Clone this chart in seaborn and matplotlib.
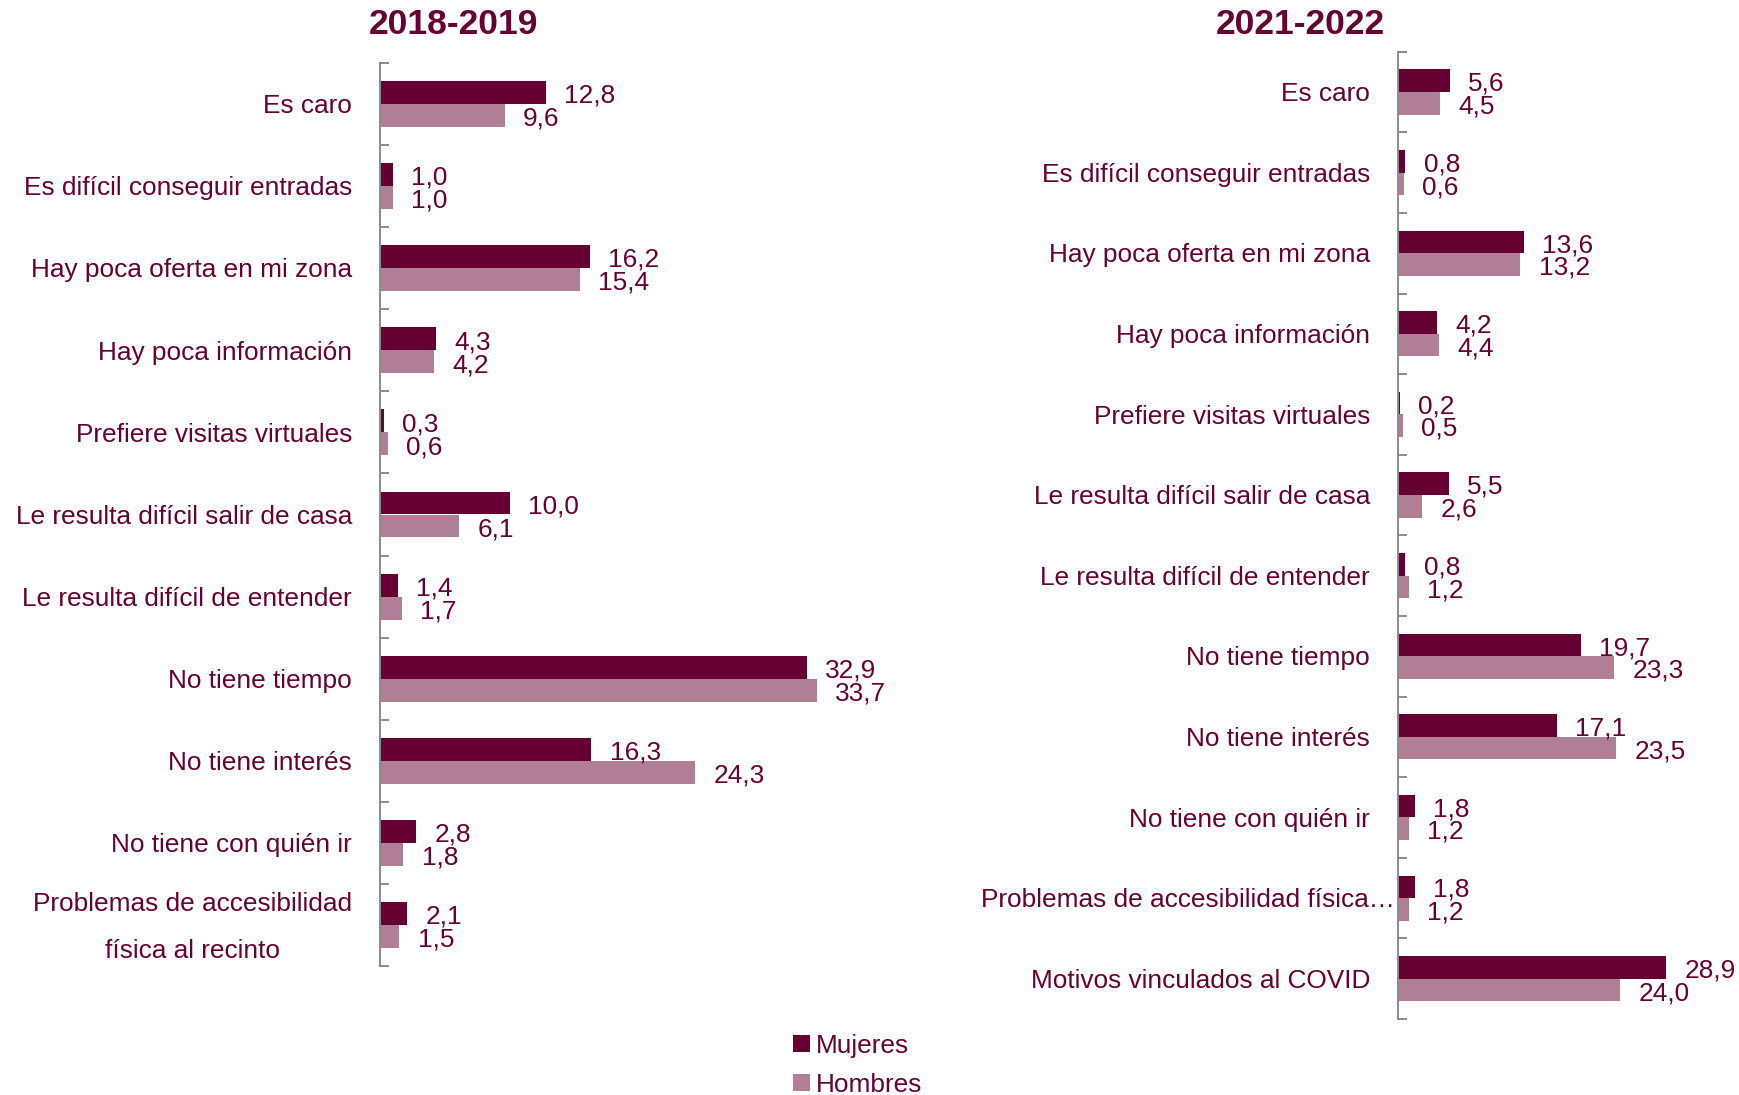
import numpy as np
import pandas as pd
import matplotlib
matplotlib.use("Agg")
import matplotlib.pyplot as plt
from matplotlib.patches import Patch
import seaborn as sns

# Motivos para no asistir, por sexo (%)
motivos_1819 = [
    "Es caro",
    "Es difícil conseguir entradas",
    "Hay poca oferta en mi zona",
    "Hay poca información",
    "Prefiere visitas virtuales",
    "Le resulta difícil salir de casa",
    "Le resulta difícil de entender",
    "No tiene tiempo",
    "No tiene interés",
    "No tiene con quién ir",
    "Problemas de accesibilidad\nfísica al recinto",
]
mujeres_1819 = [12.8, 1.0, 16.2, 4.3, 0.3, 10.0, 1.4, 32.9, 16.3, 2.8, 2.1]
hombres_1819 = [9.6, 1.0, 15.4, 4.2, 0.6, 6.1, 1.7, 33.7, 24.3, 1.8, 1.5]

motivos_2122 = [
    "Es caro",
    "Es difícil conseguir entradas",
    "Hay poca oferta en mi zona",
    "Hay poca información",
    "Prefiere visitas virtuales",
    "Le resulta difícil salir de casa",
    "Le resulta difícil de entender",
    "No tiene tiempo",
    "No tiene interés",
    "No tiene con quién ir",
    "Problemas de accesibilidad física…",
    "Motivos vinculados al COVID",
]
mujeres_2122 = [5.6, 0.8, 13.6, 4.2, 0.2, 5.5, 0.8, 19.7, 17.1, 1.8, 1.8, 28.9]
hombres_2122 = [4.5, 0.6, 13.2, 4.4, 0.5, 2.6, 1.2, 23.3, 23.5, 1.2, 1.2, 24.0]

sexos = ["Mujeres", "Hombres"]
periodos = ["2018-2019", "2021-2022"]

OSCURO = "#660033"
CLARO = "#B07F96"
TEXTO = "#660033"
EJE = "#8C8C8C"
FS = 18.9

sns.set_theme(style="white")
plt.rcParams["font.family"] = ["Liberation Sans", "DejaVu Sans"]

W, H = 1740, 1095
fig = plt.figure(figsize=(W / 100, H / 100), dpi=100)


def fig_rect(x0, y_top, x1, y_bot):
    return [x0 / W, 1 - y_bot / H, (x1 - x0) / W, (y_bot - y_top) / H]


def tabla(motivos, mujeres, hombres):
    return pd.DataFrame({
        "Motivo": motivos * 2,
        "Sexo": ["Mujeres"] * len(motivos) + ["Hombres"] * len(motivos),
        "Valor": mujeres + hombres,
    })


def panel(ax, motivos, mujeres, hombres, xmax):
    df = tabla(motivos, mujeres, hombres)
    sns.barplot(data=df, x="Valor", y="Motivo", hue="Sexo", order=motivos,
                hue_order=sexos, orient="h", palette=[OSCURO, CLARO],
                saturation=1, width=0.56, linewidth=0, legend=False,
                errorbar=None, ax=ax)
    n = len(motivos)
    ax.set_xlim(0, xmax)
    ax.set_ylim(n - 0.5, -0.5)
    ax.set_xlabel("")
    ax.set_ylabel("")
    ax.set_xticks([])
    ax.set_yticks(np.arange(n + 1) - 0.5)
    ax.set_yticklabels([])
    ax.tick_params(axis="y", direction="in", length=6.2, width=1.4,
                   color=EJE, left=True)
    for s in ["top", "right", "bottom"]:
        ax.spines[s].set_visible(False)
    ax.spines["left"].set_color(EJE)
    ax.spines["left"].set_linewidth(1.4)
    ax.patch.set_alpha(0)

    # etiquetas de categoría
    for i, m in enumerate(motivos):
        pad = -2.5 if m.endswith("…") else -20.2
        ax.annotate(m, xy=(0, i), xycoords="data", xytext=(pad, -1.6),
                    textcoords="offset points", ha="right", va="center",
                    multialignment="center", linespacing=2.2,
                    fontsize=FS, color=TEXTO, annotation_clip=False)

    # valores de las barras
    for cont, vals in zip(ax.containers, [mujeres, hombres]):
        for bar, v in zip(cont, vals):
            ax.annotate(f"{v:.1f}".replace(".", ","),
                        xy=(bar.get_width(), bar.get_y() + bar.get_height() / 2),
                        xytext=(13.2, -2.3), textcoords="offset points",
                        ha="left", va="center", fontsize=FS, color=TEXTO,
                        annotation_clip=False)


ax1 = fig.add_axes(fig_rect(380, 63, 880, 966))
panel(ax1, motivos_1819, mujeres_1819, hombres_1819, 500 / 12.97)

ax2 = fig.add_axes(fig_rect(1398, 51.7, 1740, 1019))
panel(ax2, motivos_2122, mujeres_2122, hombres_2122, 342 / 9.27)

fig.text(453 / W, 1 - 25 / H, periodos[0], ha="center", va="center",
         fontsize=25.5, fontweight="bold", color=TEXTO)
fig.text(1300 / W, 1 - 25 / H, periodos[1], ha="center", va="center",
         fontsize=25.5, fontweight="bold", color=TEXTO)

handles = [Patch(facecolor=OSCURO, edgecolor="none"),
           Patch(facecolor=CLARO, edgecolor="none")]
fig.legend(handles, sexos, loc="upper left",
           bbox_to_anchor=(793 / W, 1 - 1034 / H), frameon=False,
           fontsize=FS, labelcolor=TEXTO, handlelength=0.63,
           handleheight=0.63, handletextpad=0.25, labelspacing=0.56,
           borderpad=0, borderaxespad=0)

fig.savefig("out.png", dpi=100)
